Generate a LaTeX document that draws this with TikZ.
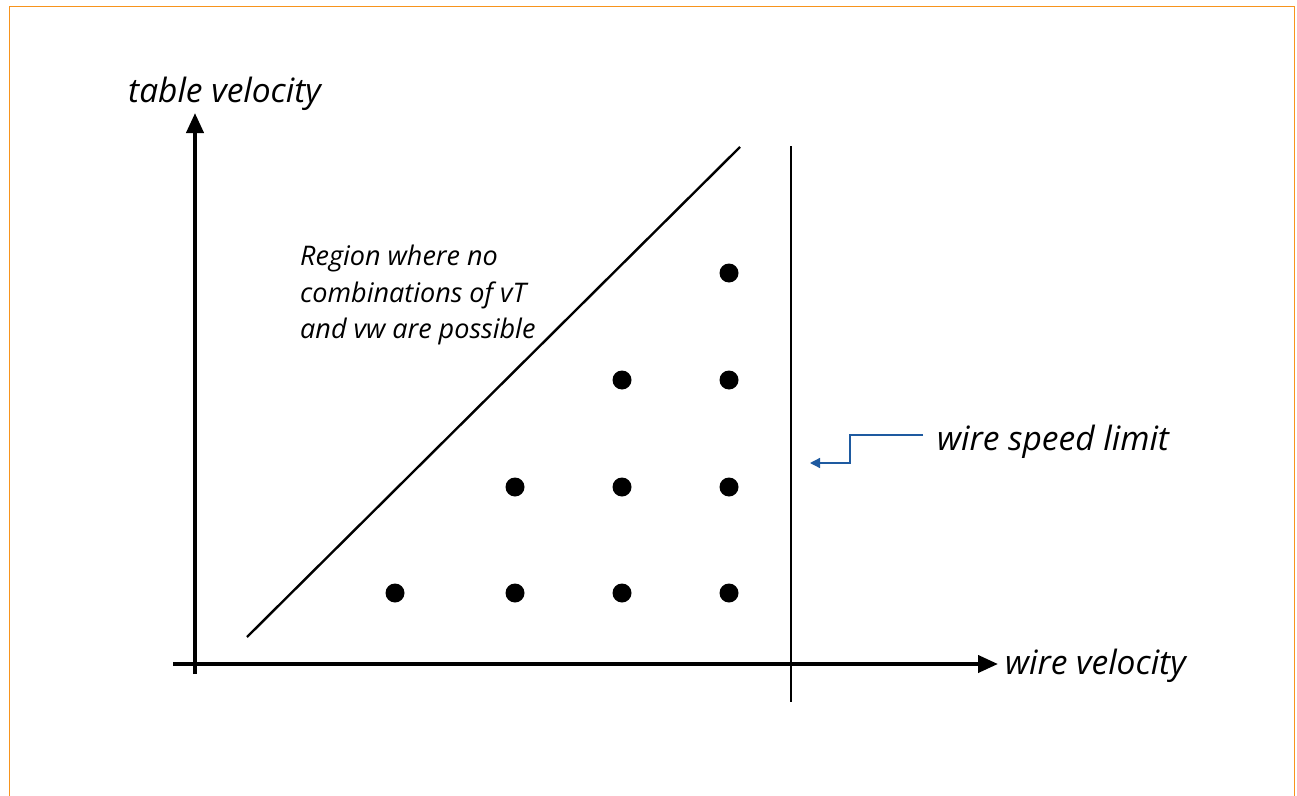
\documentclass[tikz,border=0pt]{standalone}
\usepackage{fontspec}
\setmainfont{Open Sans}
\usetikzlibrary{arrows.meta}
\definecolor{frameorange}{RGB}{247,148,29}
\definecolor{calloutblue}{RGB}{30,90,160}
\begin{document}
\begin{tikzpicture}[x=1bp,y=-1bp,
  axis/.style={line width=4bp,-{Triangle[length=20bp,width=17bp]}},
  thin line/.style={line width=2.4bp},
  dot/.style={circle,fill=black,inner sep=0pt,minimum size=19bp},
  lbl/.style={font=\fontsize{33.5bp}{38bp}\selectfont\itshape,inner sep=0pt,anchor=base west},
  note/.style={font=\fontsize{27bp}{37bp}\selectfont\itshape,inner sep=0pt,anchor=base west},
  callout/.style={draw=calloutblue,line width=1.3bp,-{Triangle[length=10bp,width=10bp]}}]
\useasboundingbox (0,0) rectangle (1297,796);
\draw[frameorange,line width=1.5bp] (9.5,800) -- (9.5,6.5) -- (1294.5,6.5) -- (1294.5,800);
% axes
\coordinate (ybot) at (195,674);
\coordinate (ytop) at (195,113);
\coordinate (xl) at (173,664);
\coordinate (xr) at (998,664);
\draw[axis] (ybot) -- (ytop);
\draw[axis] (xl) -- (xr);
\node[lbl] (ylab) at (128,103) {table velocity};
\node[lbl] (xlab) at (1005,674) {wire velocity};
% diagonal and limit
\coordinate (d1) at (247,637);
\coordinate (d2) at (740,147);
\draw[thin line] (d1) -- (d2);
\coordinate (v1) at (791,146);
\coordinate (v2) at (791,702);
\draw[thin line] (v1) -- (v2);
% dots
\foreach \n/\x/\y in {a/395/593,b/515/593,c/622/593,d/729/593,e/515/487,f/622/487,g/729/487,h/622/380,i/729/380,j/729/273}
  \node[dot] (\n) at (\x,\y) {};
% region note
\node[note] (reg1) at (300,265) {Region where no};
\node[note] (reg2) at (300,302) {combinations of vT};
\node[note] (reg3) at (300,338) {and vw are possible};
% wire speed limit
\node[lbl] (wsl) at (937,450) {wire speed limit};
\coordinate (c0) at (923,435);
\coordinate (c1) at (850,435);
\coordinate (c2) at (850,463);
\coordinate (c3) at (810,463);
\draw[callout] (c0) -- (c1) -- (c2) -- (c3);
\end{tikzpicture}
\end{document}
